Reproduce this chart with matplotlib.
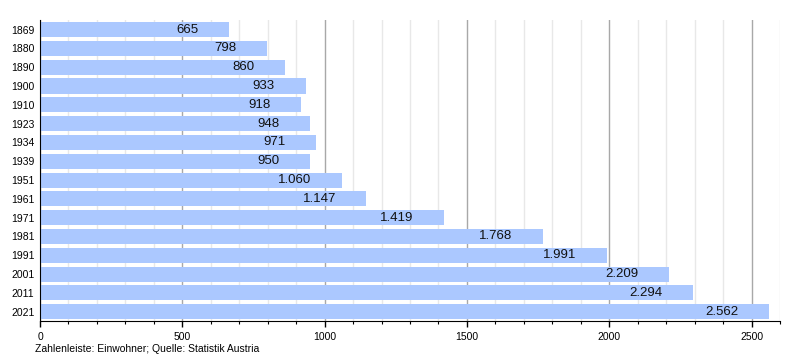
import matplotlib
matplotlib.use("Agg")
import matplotlib.pyplot as plt
from matplotlib.ticker import MultipleLocator

# Einwohnerentwicklung
jahre = ["1869", "1880", "1890", "1900", "1910", "1923", "1934", "1939",
         "1951", "1961", "1971", "1981", "1991", "2001", "2011", "2021"]
einwohner = [665, 798, 860, 933, 918, 948, 971, 950,
             1060, 1147, 1419, 1768, 1991, 2209, 2294, 2562]

plt.rcParams['font.family'] = ['Liberation Sans', 'DejaVu Sans']

fig = plt.figure(figsize=(8, 3.6), dpi=100)
ax = fig.add_axes([0.05, 0.108, 0.925, 0.836])

pos = list(range(len(jahre)))
ax.barh(pos, einwohner, height=0.8, color="#abc8ff", zorder=2)

# beschriftung in den balken (deutsches tausender-trennzeichen)
for p, v in zip(pos, einwohner):
    txt = f"{v:,}".replace(",", ".")
    ax.annotate(txt, xy=(v, p), xytext=(-22, 0), textcoords="offset points",
                ha="right", va="center", fontsize=9.5, color="#111111", zorder=3)

ax.set_yticks(pos)
ax.set_yticklabels(jahre, fontsize=7.5)
ax.set_ylim(len(jahre) - 0.5, -0.5)
ax.set_xlim(0, 2600)

ax.xaxis.set_major_locator(MultipleLocator(500))
ax.xaxis.set_minor_locator(MultipleLocator(100))
ax.tick_params(axis="x", which="major", labelsize=7.5, length=4, width=1, color="black")
ax.tick_params(axis="x", which="minor", length=2.5, width=0.8, color="black")
ax.tick_params(axis="y", length=0, pad=4)

ax.grid(axis="x", which="major", color="#a8a8a8", linewidth=1, zorder=0)
ax.grid(axis="x", which="minor", color="#e8e8e8", linewidth=1, zorder=0)
ax.set_axisbelow(True)

for s in ["top", "right"]:
    ax.spines[s].set_visible(False)
ax.spines["left"].set_color("black")
ax.spines["bottom"].set_color("black")

fig.text(35 / 800, 1 - 349 / 360, "Zahlenleiste: Einwohner; Quelle: Statistik Austria",
         fontsize=7.5, ha="left", va="center")

fig.savefig("out.png", dpi=100)
